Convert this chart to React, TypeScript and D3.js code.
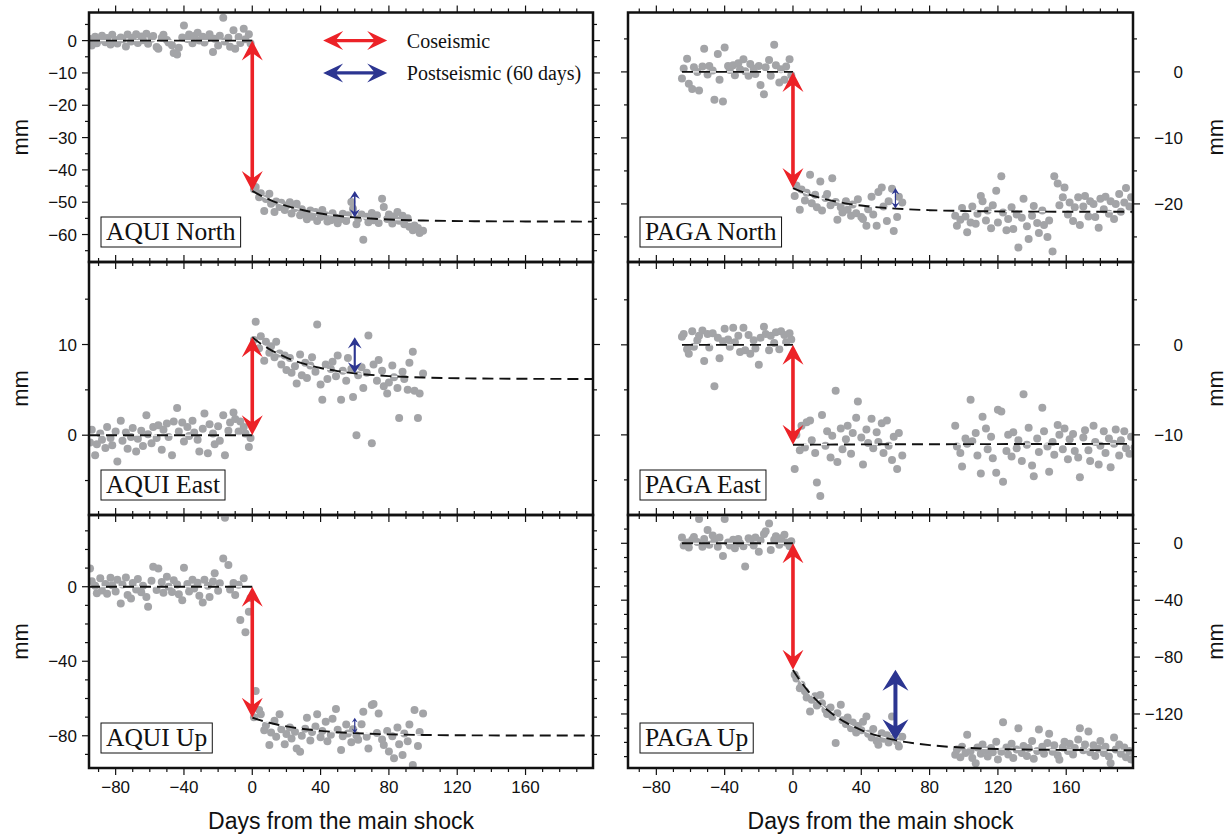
import React, { useEffect, useRef } from 'react';
import * as d3 from 'd3';

// days at which the fitted (exponential) curve values below are given
const fitDays = [0, 5, 10, 15, 20, 30, 40, 50, 60, 80, 100, 130, 160, 200];
const xLabels = [-80, -40, 0, 40, 80, 120, 160];

const aquiNorth = [
  [-95, 0.5], [-94, -1.5], [-92, 1.2], [-91, -0.8], [-89, 0.3], [-88, 1.5], [-86, -0.5], [-85, 0.8], [-83, -1.2], [-82, 1.8],
  [-80, 0.2], [-79, -0.9], [-77, 1.0], [-76, 0.4], [-74, -1.8], [-73, 1.9], [-71, -0.3], [-70, 0.9], [-68, 2.0], [-67, -0.7],
  [-65, 1.3], [-64, 0.1], [-62, 2.1], [-61, -1.0], [-59, 0.6], [-58, 1.4], [-56, -2.0], [-55, -2.5], [-53, 0.9], [-52, 1.8],
  [-50, 0.2], [-49, -0.6], [-47, -1.4], [-46, -3.8], [-44, -4.3], [-43, -2.2], [-41, 1.0], [-40, 4.7], [-38, 0.5], [-37, 1.9],
  [-35, -0.8], [-34, 1.4], [-32, 2.4], [-31, 0.0], [-29, 1.2], [-28, -0.6], [-26, 0.8], [-25, 2.0], [-23, -3.5], [-22, 0.6],
  [-20, -1.5], [-19, 1.5], [-17, 7.1], [-16, -0.3], [-14, 0.9], [-13, -1.9], [-11, 3.2], [-10, -2.5], [-8, 1.1], [-7, -0.7],
  [-5, 3.7], [-4, 0.4], [-2, 2.0], [-1, -0.9],
  [1, -46.0], [2, -45.3], [4, -48.5], [5, -47.2], [7, -52.7], [8, -49.0], [10, -47.4], [11, -50.5], [13, -53.0], [14, -49.8],
  [16, -51.5], [17, -50.2], [19, -52.4], [20, -51.0], [22, -50.0], [23, -53.5], [25, -51.8], [26, -50.5], [28, -54.0], [29, -52.2],
  [31, -53.8], [32, -55.3], [34, -52.6], [35, -54.5], [37, -53.0], [38, -55.8], [40, -54.6], [41, -52.4], [43, -54.0], [44, -56.0],
  [46, -55.6], [47, -53.4], [49, -54.8], [50, -56.5], [52, -55.2], [53, -53.6], [55, -55.8], [56, -54.0], [58, -49.9], [59, -52.0],
  [61, -56.8], [62, -55.2], [64, -53.8], [65, -61.6], [67, -54.5], [68, -56.2], [70, -53.3], [71, -55.6], [73, -54.0], [74, -56.4],
  [76, -48.9], [77, -51.5], [79, -55.2], [80, -53.8], [82, -56.6], [83, -54.4], [85, -53.0], [86, -55.7], [88, -54.2], [89, -56.8],
  [91, -55.0], [92, -57.6], [94, -58.7], [95, -57.2], [97, -58.0], [98, -59.5], [100, -58.8]
];
const aquiNorthFit = [-46.5, -47.96, -49.19, -50.24, -51.12, -52.5, -53.5, -54.2, -54.7, -55.34, -55.66, -55.88, -55.95, -56.0];

const aquiEast = [
  [-95, -0.8], [-94, 0.6], [-92, -2.2], [-91, -1.0], [-89, 0.2], [-88, -0.5], [-86, -1.4], [-85, 0.9], [-83, -0.3], [-82, -1.1],
  [-80, 0.4], [-79, -2.9], [-77, 1.6], [-76, -0.6], [-74, 0.3], [-73, -1.5], [-71, -0.2], [-70, 0.8], [-68, -1.8], [-67, -0.4],
  [-65, 0.5], [-64, -1.2], [-62, 2.2], [-61, 0.1], [-59, -0.9], [-58, 0.9], [-56, -0.3], [-55, 1.1], [-53, -1.6], [-52, 0.6],
  [-50, 1.3], [-49, -0.2], [-47, -2.2], [-46, 1.5], [-44, 3.0], [-43, 0.4], [-41, 1.4], [-40, -0.7], [-38, 0.9], [-37, -0.1],
  [-35, 1.6], [-34, 0.3], [-32, -0.5], [-31, -1.8], [-29, 0.7], [-28, 2.4], [-26, -2.0], [-25, 1.2], [-23, 0.2], [-22, -1.0],
  [-20, 1.0], [-19, -0.6], [-17, 2.2], [-16, -2.2], [-14, 0.5], [-13, 1.4], [-11, 2.5], [-10, 1.8], [-8, 0.4], [-7, 1.5],
  [-5, 0.9], [-4, 0.2], [-2, -1.3], [-1, -0.3],
  [1, 10.5], [2, 12.5], [4, 9.6], [5, 10.9], [7, 8.2], [8, 10.3], [10, 9.1], [11, 9.8], [13, 8.6], [14, 10.3],
  [16, 9.0], [17, 7.8], [19, 8.8], [20, 7.2], [22, 8.5], [23, 6.9], [25, 7.6], [26, 5.7], [28, 8.9], [29, 6.6],
  [31, 8.0], [32, 6.3], [34, 7.7], [35, 8.6], [37, 7.0], [38, 12.2], [40, 5.6], [41, 3.9], [43, 7.8], [44, 6.2],
  [46, 7.3], [47, 8.1], [49, 6.5], [50, 8.8], [52, 3.9], [53, 7.1], [55, 6.0], [56, 8.5], [58, 7.3], [59, 4.2],
  [61, 0.0], [62, 6.6], [64, 7.5], [65, 5.2], [67, 6.9], [68, 11.0], [70, -0.9], [71, 7.8], [73, 6.0], [74, 8.3],
  [76, 7.1], [77, 5.4], [79, 4.6], [80, 5.8], [82, 7.7], [83, 6.4], [85, 5.2], [86, 1.9], [88, 7.0], [89, 6.2],
  [91, 5.0], [92, 8.0], [94, 9.2], [95, 4.9], [97, 1.9], [98, 4.6], [100, 6.8]
];
const aquiEastFit = [10.8, 10.09, 9.5, 9.0, 8.56, 7.89, 7.41, 7.07, 6.82, 6.52, 6.36, 6.26, 6.22, 6.2];

const aquiUp = [
  [-95, 9.8], [-94, 3.0], [-92, 0.5], [-91, -3.5], [-89, 4.5], [-88, -2.0], [-86, 1.5], [-85, -3.8], [-83, 4.8], [-82, 0.8],
  [-80, -2.5], [-79, 3.8], [-77, -9.0], [-76, 1.2], [-74, 5.0], [-73, -4.5], [-71, -6.3], [-70, 2.0], [-68, -1.5], [-67, 4.2],
  [-65, -3.0], [-64, 0.5], [-62, -5.5], [-61, -10.7], [-59, 3.2], [-58, 10.7], [-56, -1.8], [-55, 9.8], [-53, 2.5], [-52, -3.2],
  [-50, 5.4], [-49, 0.0], [-47, -2.8], [-46, 3.5], [-44, 1.2], [-43, -4.0], [-41, -7.2], [-40, 10.2], [-38, 1.5], [-37, -2.5],
  [-35, 3.8], [-34, -1.0], [-32, 2.2], [-31, -4.8], [-29, -8.4], [-28, 3.8], [-26, 0.5], [-25, -5.5], [-23, 2.8], [-22, 7.2],
  [-20, -2.2], [-19, 1.8], [-17, 15.2], [-16, 37.0], [-14, 11.6], [-13, -1.5], [-11, 2.0], [-10, -4.5], [-8, 1.0], [-7, -17.9],
  [-5, 4.5], [-4, -24.5], [-2, -13.4], [-1, -6.0],
  [1, -70.0], [2, -56.0], [4, -66.2], [5, -68.5], [7, -77.0], [8, -74.5], [10, -85.0], [11, -78.2], [13, -72.0], [14, -80.5],
  [16, -68.5], [17, -76.5], [19, -84.6], [20, -79.0], [22, -75.5], [23, -81.5], [25, -77.8], [26, -86.8], [28, -88.6], [29, -80.0],
  [31, -76.2], [32, -70.3], [34, -82.5], [35, -78.0], [37, -75.0], [38, -68.5], [40, -80.8], [41, -77.5], [43, -72.5], [44, -83.0],
  [46, -79.5], [47, -70.8], [49, -65.6], [50, -76.8], [52, -87.7], [53, -80.2], [55, -74.0], [56, -78.8], [58, -83.5], [59, -76.5],
  [61, -79.8], [62, -82.2], [64, -73.8], [65, -67.1], [67, -80.5], [68, -86.8], [70, -63.5], [71, -63.0], [73, -78.5], [74, -68.0],
  [76, -82.0], [77, -85.0], [79, -77.5], [80, -88.5], [82, -80.2], [83, -92.0], [85, -75.5], [86, -84.5], [88, -90.3], [89, -78.8],
  [91, -83.0], [92, -74.0], [94, -95.7], [95, -66.2], [97, -85.5], [98, -78.0], [100, -68.0]
];
const aquiUpFit = [-70.3, -71.78, -73.02, -74.08, -74.97, -76.37, -77.37, -78.09, -78.6, -79.23, -79.56, -79.77, -79.85, -79.9];

const pagaNorth = [
  [-65, -1.0], [-64, 0.5], [-62, 2.0], [-61, -1.8], [-59, -2.6], [-58, 0.7], [-56, 0.0], [-55, -2.8], [-53, 0.8], [-52, 3.5],
  [-50, -0.4], [-49, 0.9], [-47, 0.2], [-46, -4.2], [-44, 2.7], [-43, -1.2], [-41, -4.5], [-40, 3.7], [-38, 0.9], [-37, 0.3],
  [-35, 1.0], [-34, -0.5], [-32, 1.3], [-31, 0.4], [-29, 1.9], [-28, 0.1], [-26, -0.6], [-25, 1.2], [-23, 0.5], [-22, -0.3],
  [-20, 0.9], [-19, -2.0], [-17, -3.4], [-16, 0.7], [-14, 1.8], [-13, -0.6], [-11, 4.1], [-10, 1.0], [-8, -1.6], [-7, 0.4],
  [-5, -1.2], [-4, 0.8], [-2, 1.9], [-1, -0.5],
  [1, -18.8], [2, -17.2], [4, -20.9], [5, -17.8], [7, -19.5], [8, -18.3], [10, -15.6], [11, -19.9], [13, -18.6], [14, -20.5],
  [16, -16.6], [17, -21.0], [19, -19.1], [20, -18.5], [22, -20.2], [23, -16.1], [25, -19.7], [26, -22.4], [28, -20.5], [29, -21.3],
  [31, -19.6], [32, -20.9], [34, -21.8], [35, -20.1], [37, -21.4], [38, -19.3], [40, -22.0], [41, -22.3], [43, -23.3], [44, -20.8],
  [46, -18.9], [47, -21.6], [49, -23.3], [50, -18.2], [52, -17.5], [53, -20.4], [55, -22.6], [56, -19.6], [58, -17.7], [59, -24.1],
  [61, -22.0], [62, -18.9], [64, -19.8],
  [95, -21.8], [96, -23.3], [98, -22.4], [99, -20.6], [101, -21.9], [102, -24.3], [104, -22.8], [105, -20.4], [107, -23.0], [108, -21.5],
  [110, -18.8], [111, -19.6], [113, -22.5], [114, -21.0], [116, -23.7], [117, -20.2], [119, -18.0], [120, -22.8], [122, -15.8], [123, -21.3],
  [125, -24.0], [126, -22.3], [128, -20.5], [129, -23.8], [131, -21.6], [132, -26.6], [134, -22.1], [135, -19.2], [137, -23.4], [138, -25.3],
  [140, -21.8], [141, -20.3], [143, -22.9], [144, -24.4], [146, -21.0], [147, -23.2], [149, -25.0], [150, -22.5], [152, -27.2], [153, -15.8],
  [155, -16.9], [156, -20.2], [158, -19.0], [159, -17.5], [161, -21.6], [162, -19.8], [164, -22.6], [165, -20.5], [167, -19.0], [168, -23.2],
  [170, -20.4], [171, -18.8], [173, -21.9], [174, -19.6], [176, -20.0], [177, -22.0], [179, -23.6], [180, -19.2], [182, -20.8], [183, -18.9],
  [185, -21.5], [186, -19.6], [188, -22.3], [189, -20.0], [191, -18.5], [192, -21.2], [194, -19.8], [195, -17.6], [197, -20.4], [198, -19.0],
  [200, -21.0]
];
const pagaNorthFit = [-17.6, -18.15, -18.62, -19.02, -19.35, -19.88, -20.25, -20.52, -20.71, -20.95, -21.07, -21.15, -21.18, -21.2];

const pagaEast = [
  [-65, 0.9], [-64, 1.2], [-62, -0.5], [-61, -1.0], [-59, 1.5], [-58, -0.2], [-56, 0.5], [-55, 1.0], [-53, 1.6], [-52, -1.8],
  [-50, 1.2], [-49, -0.3], [-47, 1.3], [-46, -4.6], [-44, 0.8], [-43, -1.5], [-41, 0.4], [-40, 1.8], [-38, 0.6], [-37, -0.2],
  [-35, 1.9], [-34, 0.3], [-32, 1.0], [-31, -0.8], [-29, 1.9], [-28, -0.6], [-26, 1.1], [-25, -1.0], [-23, 0.5], [-22, -0.4],
  [-20, -2.2], [-19, 0.8], [-17, 2.0], [-16, 1.2], [-14, -0.6], [-13, 1.0], [-11, 0.2], [-10, 1.4], [-8, -0.5], [-7, 1.5],
  [-5, 1.1], [-4, 0.3], [-2, 1.3], [-1, 0.6],
  [1, -13.8], [2, -10.0], [4, -11.7], [5, -9.0], [7, -11.4], [8, -8.6], [10, -8.4], [11, -10.6], [13, -12.0], [14, -15.3],
  [16, -16.8], [17, -7.8], [19, -11.2], [20, -9.6], [22, -12.5], [23, -10.1], [25, -5.1], [26, -13.0], [28, -9.3], [29, -11.6],
  [31, -10.5], [32, -9.0], [34, -12.1], [35, -9.8], [37, -8.1], [38, -6.3], [40, -10.3], [41, -13.3], [43, -9.4], [44, -10.9],
  [46, -8.2], [47, -11.5], [49, -9.7], [50, -10.8], [52, -8.7], [53, -12.0], [55, -8.4], [56, -11.2], [58, -12.8], [59, -10.2],
  [61, -13.8], [62, -9.8], [64, -12.3],
  [95, -9.0], [96, -11.3], [98, -12.0], [99, -13.5], [101, -10.4], [102, -11.0], [104, -6.1], [105, -10.7], [107, -9.8], [108, -12.3],
  [110, -14.3], [111, -8.0], [113, -9.3], [114, -11.6], [116, -10.2], [117, -12.6], [119, -14.2], [120, -7.2], [122, -7.4], [123, -15.2],
  [125, -11.8], [126, -10.0], [128, -12.4], [129, -9.7], [131, -11.5], [132, -10.6], [134, -12.9], [135, -5.5], [137, -11.1], [138, -9.2],
  [140, -13.4], [141, -14.6], [143, -10.4], [144, -11.9], [146, -7.0], [147, -9.6], [149, -11.3], [150, -14.1], [152, -10.8], [153, -12.2],
  [155, -8.9], [156, -10.0], [158, -11.6], [159, -9.3], [161, -12.7], [162, -10.5], [164, -9.9], [165, -11.8], [167, -12.5], [168, -14.7],
  [170, -10.3], [171, -9.5], [173, -11.7], [174, -12.9], [176, -9.0], [177, -10.8], [179, -13.3], [180, -11.2], [182, -9.6], [183, -12.0],
  [185, -10.4], [186, -13.6], [188, -11.0], [189, -9.4], [191, -12.3], [192, -10.6], [194, -9.6], [195, -11.5], [197, -12.1], [198, -10.2],
  [200, -11.4]
];
const pagaEastFit = [-11.1, -11.1, -11.09, -11.08, -11.08, -11.07, -11.06, -11.05, -11.05, -11.04, -11.03, -11.02, -11.01, -11.0];

const pagaUp = [
  [-65, 4.0], [-64, -1.5], [-62, 0.5], [-61, -3.0], [-59, 2.5], [-58, 4.5], [-56, 1.0], [-55, 17.0], [-53, -2.5], [-52, 3.0],
  [-50, 9.4], [-49, -1.0], [-47, 5.5], [-46, 2.0], [-44, -2.5], [-43, 4.0], [-41, -8.9], [-40, 17.0], [-38, 0.5], [-37, -1.5],
  [-35, 2.5], [-34, -3.5], [-32, 3.0], [-31, 0.0], [-29, -2.0], [-28, -16.4], [-26, 3.5], [-25, 1.0], [-23, -1.5], [-22, 4.0],
  [-20, -5.9], [-19, 2.0], [-17, 6.5], [-16, 8.5], [-14, 14.0], [-13, -4.7], [-11, 2.5], [-10, 5.0], [-8, -1.0], [-7, 3.5],
  [-5, 6.0], [-4, 0.5], [-2, -2.0], [-1, 1.5],
  [1, -92.5], [2, -95.0], [4, -101.9], [5, -99.5], [7, -104.0], [8, -108.5], [10, -118.3], [11, -110.0], [13, -107.5], [14, -114.0],
  [16, -106.6], [17, -112.5], [19, -117.0], [20, -120.0], [22, -115.5], [23, -122.0], [25, -140.5], [26, -119.5], [28, -113.6], [29, -124.5],
  [31, -127.0], [32, -122.5], [34, -130.0], [35, -126.0], [37, -133.0], [38, -128.5], [40, -131.5], [41, -125.5], [43, -121.8], [44, -134.0],
  [46, -136.5], [47, -130.5], [49, -139.0], [50, -141.7], [52, -133.5], [53, -137.5], [55, -135.0], [56, -140.0], [58, -121.8], [59, -137.0],
  [61, -139.5], [62, -142.9], [64, -136.0],
  [95, -148.7], [96, -145.0], [98, -150.5], [99, -143.0], [101, -147.5], [102, -134.7], [104, -146.0], [105, -151.0], [107, -154.6], [108, -143.5],
  [110, -148.0], [111, -141.5], [113, -145.5], [114, -150.0], [116, -144.0], [117, -147.0], [119, -139.5], [120, -152.0], [122, -146.5], [123, -125.8],
  [125, -143.5], [126, -148.5], [128, -141.0], [129, -151.0], [131, -145.0], [132, -130.0], [134, -147.5], [135, -142.5], [137, -149.5], [138, -144.0],
  [140, -139.0], [141, -151.5], [143, -146.0], [144, -131.0], [146, -143.0], [147, -148.0], [149, -140.5], [150, -134.0], [152, -146.5], [153, -142.0],
  [155, -149.0], [156, -152.2], [158, -143.5], [159, -139.5], [161, -146.0], [162, -141.0], [164, -148.5], [165, -144.0], [167, -138.0], [168, -130.0],
  [170, -145.5], [171, -141.5], [173, -132.3], [174, -147.0], [176, -142.0], [177, -149.5], [179, -144.5], [180, -139.0], [182, -147.5], [183, -143.0],
  [185, -150.0], [186, -154.6], [188, -136.5], [189, -145.0], [191, -141.5], [192, -148.0], [194, -143.5], [195, -150.5], [197, -146.0], [198, -152.0],
  [200, -149.0]
];
const pagaUpFit = [-89, -97.95, -105.5, -111.8, -117.1, -125.4, -131.3, -135.4, -138.4, -141.9, -143.7, -144.9, -145.3, -145.5];

const panels = [
  { name: 'AQUI North', col: 0, row: 0, data: aquiNorth, fit: aquiNorthFit, preFrom: null, yDomain: [-68.5, 8.7], yLabels: [-60, -50, -40, -30, -20, -10, 0], yMinor: 5, post: true, legend: true },
  { name: 'AQUI East', col: 0, row: 1, data: aquiEast, fit: aquiEastFit, preFrom: null, yDomain: [-8.8, 19.1], yLabels: [0, 10], yMinor: 5, post: true },
  { name: 'AQUI Up', col: 0, row: 2, data: aquiUp, fit: aquiUpFit, preFrom: null, yDomain: [-97.3, 38.5], yLabels: [-80, -40, 0], yMinor: 10, post: true },
  { name: 'PAGA North', col: 1, row: 0, data: pagaNorth, fit: pagaNorthFit, preFrom: -65, yDomain: [-28.8, 9.0], yLabels: [-20, -10, 0], yMinor: 5, post: true },
  { name: 'PAGA East', col: 1, row: 1, data: pagaEast, fit: pagaEastFit, preFrom: -65, yDomain: [-18.9, 9.2], yLabels: [-10, 0], yMinor: 5, post: false },
  { name: 'PAGA Up', col: 1, row: 2, data: pagaUp, fit: pagaUpFit, preFrom: -65, yDomain: [-158, 19.9], yLabels: [-120, -80, -40, 0], yMinor: 10, post: true }
];

const cols = [
  { x0: 89, x1: 593, domain: [-95.6, 199.5] },
  { x0: 628, x1: 1133, domain: [-96.6, 199.1] }
];
const rows = [12.5, 262, 515, 768];

const RED = '#ec2227';
const BLUE = '#2c3591';
const GREY = '#a3a4a7';
const SANS = '"Liberation Sans", Arial, Helvetica, sans-serif';
const SERIF = '"Liberation Serif", "Times New Roman", Times, serif';

const fmt = (v: number) => (v < 0 ? '\u2212' + Math.abs(v) : String(v));

// double-headed GMT style arrow between two points
function arrowPath(x1: number, y1: number, x2: number, y2: number, L: number, W: number, h: number) {
  const dx = x2 - x1, dy = y2 - y1;
  const len = Math.hypot(dx, dy);
  const ux = dx / len, uy = dy / len;
  const px = -uy, py = ux;
  const N = 0.68 * L;
  const pt = (t: number, w: number) => [x1 + ux * t + px * w, y1 + uy * t + py * w];
  const pts = [pt(0, 0), pt(L, W), pt(N, h), pt(len - N, h), pt(len - L, W), pt(len, 0),
    pt(len - L, -W), pt(len - N, -h), pt(N, -h), pt(L, -W)];
  return 'M' + pts.map(p => p[0].toFixed(2) + ',' + p[1].toFixed(2)).join('L') + 'Z';
}

function vArrow(x: number, ya: number, yb: number, base: { L: number, W: number, h: number }) {
  const len = Math.abs(yb - ya);
  const s = Math.min(1, len / 68);
  return arrowPath(x, Math.min(ya, yb), x, Math.max(ya, yb), base.L * s, base.W * s, Math.max(0.6, base.h * s));
}

export default function App() {
  const ref = useRef<SVGSVGElement>(null);

  useEffect(() => {
    const svg = d3.select(ref.current);
    svg.selectAll('*').remove();

    panels.forEach((p, i) => {
      const c = cols[p.col];
      const top = rows[p.row], bottom = rows[p.row + 1];
      const x = d3.scaleLinear().domain(c.domain).range([c.x0, c.x1]);
      const y = d3.scaleLinear().domain(p.yDomain).range([bottom, top]);
      const g = svg.append('g');

      const clipId = 'clip' + i;
      svg.append('clipPath').attr('id', clipId)
        .append('rect').attr('x', c.x0).attr('y', top).attr('width', c.x1 - c.x0).attr('height', bottom - top);

      const inner = g.append('g').attr('clip-path', `url(#${clipId})`);

      // observations
      inner.selectAll('circle').data(p.data).join('circle')
        .attr('cx', d => x(d[0])).attr('cy', d => y(d[1])).attr('r', 4)
        .attr('fill', GREY);

      // model lines
      const preStart = p.preFrom == null ? c.domain[0] : p.preFrom;
      const pre = [[preStart, 0], [0, 0]];
      const postLine = fitDays.map((d, k) => [d, p.fit[k]]);
      const line = d3.line<number[]>().x(d => x(d[0])).y(d => y(d[1])).curve(d3.curveMonotoneX);
      [pre, postLine].forEach(seg => {
        inner.append('path').attr('d', line(seg)).attr('fill', 'none').attr('stroke', '#fff').attr('stroke-width', 1);
        inner.append('path').attr('d', line(seg)).attr('fill', 'none').attr('stroke', '#111')
          .attr('stroke-width', 1.9).attr('stroke-dasharray', '11,6');
      });

      // coseismic arrow
      g.append('path').attr('d', vArrow(x(0), y(0), y(p.fit[0]), { L: 20, W: 10.5, h: 1.8 })).attr('fill', RED);
      // postseismic (60 days) arrow
      if (p.post) {
        const k60 = fitDays.indexOf(60);
        g.append('path').attr('d', vArrow(x(60), y(p.fit[0]), y(p.fit[k60]), { L: 21, W: 13, h: 2 })).attr('fill', BLUE);
      }

      // legend
      if (p.legend) {
        [[0, RED, 'Coseismic'], [-10, BLUE, 'Postseismic (60 days)']].forEach(([v, col, label]) => {
          const yy = y(v as number);
          g.append('path').attr('d', arrowPath(x(41.5), yy, x(79), yy, 20, 9.5, 1.6)).attr('fill', col as string);
          g.append('text').attr('x', x(90.5)).attr('y', yy + 7).text(label as string)
            .attr('font-family', SERIF).attr('font-size', 20).attr('fill', '#111');
        });
      }

      // station label box
      const bx = c.x0 + 12;
      const boxG = g.append('g');
      const rect = boxG.append('rect').attr('x', bx).attr('y', bottom - 45).attr('height', 30)
        .attr('fill', '#fff').attr('stroke', '#111').attr('stroke-width', 1);
      const t = boxG.append('text').attr('x', bx + 5).attr('y', bottom - 22).text(p.name)
        .attr('font-family', SERIF).attr('font-size', 25.5).attr('fill', '#111');
      const tw = (t.node() as SVGTextElement).getComputedTextLength();
      rect.attr('width', tw + 10);

      // ticks
      const ticks = g.append('g').attr('stroke', '#111').attr('stroke-width', 1.2);
      d3.range(-90, 201, 10).filter(v => v >= c.domain[0] && v <= c.domain[1]).forEach(v => {
        const len = v % 40 === 0 ? 7 : 4;
        ticks.append('line').attr('x1', x(v)).attr('x2', x(v)).attr('y1', top).attr('y2', top - len);
        ticks.append('line').attr('x1', x(v)).attr('x2', x(v)).attr('y1', bottom).attr('y2', bottom + len);
      });
      const [ylo, yhi] = p.yDomain;
      d3.range(Math.ceil(ylo / p.yMinor) * p.yMinor, yhi, p.yMinor).forEach(v => {
        const len = p.yLabels.includes(v) ? 7 : 4;
        ticks.append('line').attr('x1', c.x0).attr('x2', c.x0 - len).attr('y1', y(v)).attr('y2', y(v));
        ticks.append('line').attr('x1', c.x1).attr('x2', c.x1 + len).attr('y1', y(v)).attr('y2', y(v));
      });

      // y labels
      p.yLabels.forEach(v => {
        g.append('text').attr('x', p.col === 0 ? c.x0 - 12 : 1183).attr('y', y(v)).attr('dy', '0.36em')
          .attr('text-anchor', 'end').attr('font-family', SANS).attr('font-size', 17).attr('fill', '#111')
          .text(fmt(v));
      });
      const cy = (top + bottom) / 2;
      g.append('text').attr('transform', `translate(${p.col === 0 ? 28 : 1223},${cy}) rotate(-90)`)
        .attr('text-anchor', 'middle').attr('font-family', SANS).attr('font-size', 22).attr('fill', '#111')
        .text('mm');

      // x labels on the bottom row
      if (p.row === 2) {
        xLabels.forEach(v => {
          g.append('text').attr('x', x(v)).attr('y', bottom + 25).attr('text-anchor', 'middle')
            .attr('font-family', SANS).attr('font-size', 17).attr('fill', '#111').text(fmt(v));
        });
        g.append('text').attr('x', (c.x0 + c.x1) / 2).attr('y', bottom + 61).attr('text-anchor', 'middle')
          .attr('font-family', SANS).attr('font-size', 23).attr('fill', '#111').text('Days from the main shock');
      }

      // frame
      g.append('rect').attr('x', c.x0).attr('y', top).attr('width', c.x1 - c.x0).attr('height', bottom - top)
        .attr('fill', 'none').attr('stroke', '#111').attr('stroke-width', 2.5);
    });
  }, []);

  return (
    <svg ref={ref} width={1228} height={838}
      style={{ position: 'absolute', left: 0, top: 0, background: '#fff', display: 'block' }} />
  );
}
